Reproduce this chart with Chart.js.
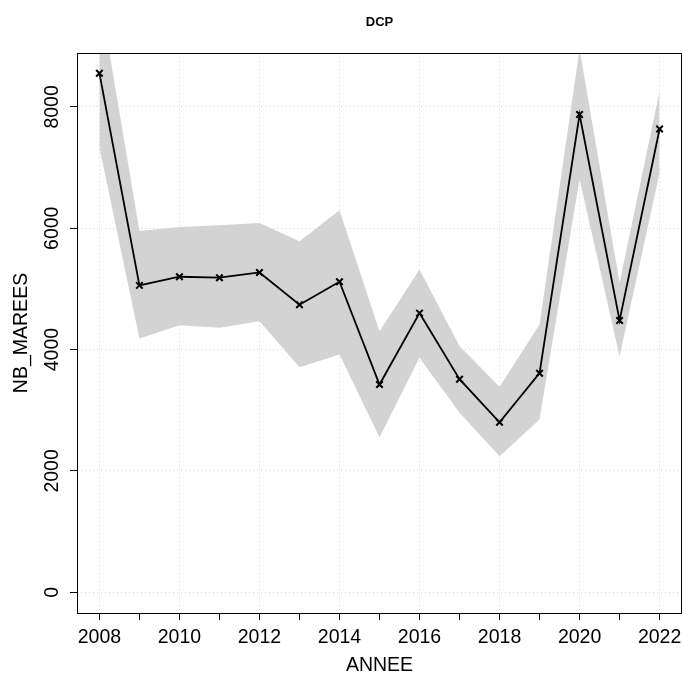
<!DOCTYPE html>
<html>
<head>
<meta charset="utf-8">
<script src="https://cdn.jsdelivr.net/npm/chart.js@4.4.1/dist/chart.umd.min.js"></script>
<style>
  html, body { margin: 0; padding: 0; background: #fff; }
  #wrap { width: 683px; height: 675px; }
</style>
</head>
<body>
<div id="wrap"><canvas id="chart" width="683" height="675"></canvas></div>
<script>
// values
const annees = [2008, 2009, 2010, 2011, 2012, 2013, 2014, 2015, 2016, 2017, 2018, 2019, 2020, 2021, 2022];
const nbMarees = [8556, 5058, 5201, 5185, 5272, 4739, 5119, 3424, 4601, 3512, 2802, 3611, 7875, 4480, 7637];
const icHaut = [9880, 5954, 6020, 6048, 6086, 5784, 6295, 4304, 5322, 4060, 3386, 4414, 8950, 5102, 8264];
const icBas = [7330, 4183, 4403, 4360, 4469, 3710, 3919, 2554, 3865, 2957, 2241, 2847, 6807, 3891, 6917];
const yTicks = [0, 2000, 4000, 6000, 8000];

const pts = (vals) => annees.map((a, i) => ({x: a, y: vals[i]}));

Chart.defaults.font.family = '"Liberation Sans", Arial, sans-serif';
Chart.defaults.color = '#000';

// R-style box around the plot region
const boxPlugin = {
  id: 'box',
  afterDraw(chart) {
    const a = chart.chartArea;
    const ctx = chart.ctx;
    ctx.save();
    ctx.strokeStyle = '#000';
    ctx.lineWidth = 1;
    ctx.strokeRect(Math.round(a.left) + 0.5, Math.round(a.top) + 0.5,
      Math.round(a.right - a.left) - 1, Math.round(a.bottom - a.top));
    ctx.restore();
  }
};

const ctx = document.getElementById('chart').getContext('2d');
new Chart(ctx, {
  type: 'line',
  data: {
    datasets: [
      {
        data: pts(nbMarees),
        borderColor: '#000',
        borderWidth: 1.8,
        pointStyle: 'crossRot',
        pointRadius: 4.6,
        pointBorderWidth: 2,
        pointBorderColor: '#000',
        fill: false,
        tension: 0
      },
      {
        data: pts(icHaut),
        borderWidth: 0,
        pointRadius: 0,
        backgroundColor: '#d3d3d3',
        fill: '+1',
        tension: 0
      },
      {
        data: pts(icBas),
        borderWidth: 0,
        pointRadius: 0,
        fill: false,
        tension: 0
      }
    ]
  },
  options: {
    responsive: false,
    animation: false,
    events: [],
    layout: { autoPadding: false, padding: { left: 0, right: 1, top: 0, bottom: 0 } },
    plugins: {
      legend: { display: false },
      tooltip: { enabled: false },
      title: {
        display: true,
        text: 'DCP',
        fullSize: false,
        color: '#000',
        font: { size: 13, weight: 'bold' },
        padding: { top: 15, bottom: 22.4 }
      }
    },
    scales: {
      x: {
        type: 'linear',
        min: 2007.44,
        max: 2022.56,
        afterFit(scale) {
          scale.height = 62;
          scale.paddingLeft = 0;
          scale.paddingRight = 0;
        },
        border: { display: false, dash: [1, 3] },
        grid: {
          color: (c) => (c.tick && c.tick.value % 2 === 0) ? '#d3d3d3' : 'rgba(0,0,0,0)',
          tickColor: '#000',
          tickLength: 7,
          lineWidth: 1
        },
        ticks: {
          stepSize: 1,
          includeBounds: false,
          autoSkip: false,
          maxRotation: 0,
          padding: 6,
          font: { size: 19.5 },
          callback: (v) => v % 2 === 0 ? String(v) : ''
        },
        title: {
          display: true,
          text: 'ANNEE',
          font: { size: 19.5, lineHeight: 1 },
          padding: { top: 0, bottom: 0 }
        }
      },
      y: {
        type: 'linear',
        min: -342,
        max: 8889,
        afterFit(scale) {
          scale.width = 77;
          scale.paddingTop = 0;
          scale.paddingBottom = 0;
        },
        afterBuildTicks(scale) { scale.ticks = yTicks.map(v => ({value: v})); },
        border: { display: false, dash: [1, 3] },
        grid: {
          color: '#d3d3d3',
          tickColor: '#000',
          tickLength: 7,
          lineWidth: 1
        },
        ticks: {
          minRotation: 90,
          maxRotation: 90,
          crossAlign: 'center',
          padding: -4,
          font: { size: 19.5 },
          callback: (v) => String(v)
        },
        title: {
          display: true,
          text: 'NB_MAREES',
          font: { size: 19.5, lineHeight: 1 },
          padding: { top: 12, bottom: 0 }
        }
      }
    }
  },
  plugins: [boxPlugin]
});
</script>
</body>
</html>
